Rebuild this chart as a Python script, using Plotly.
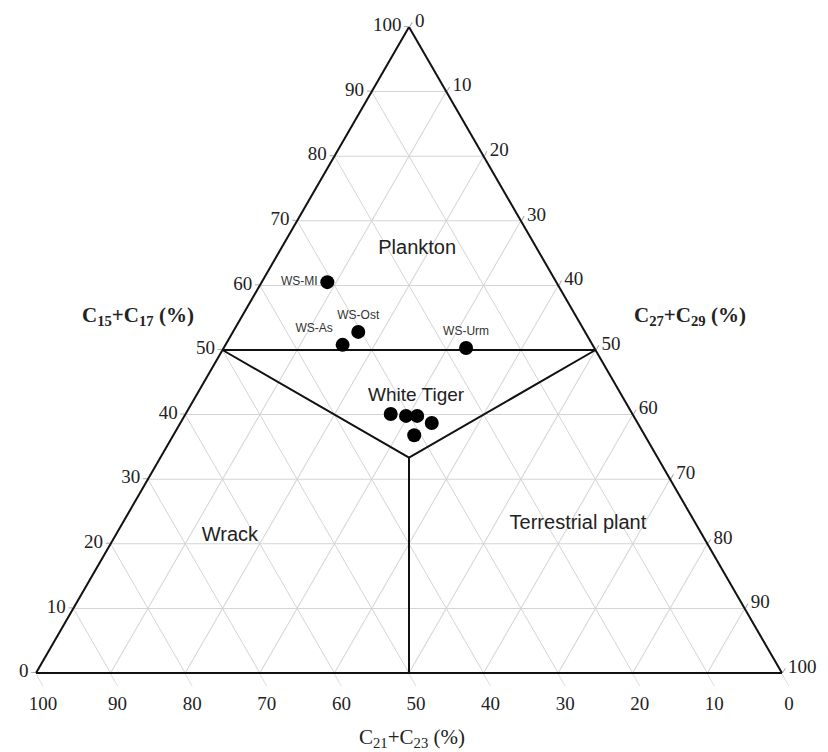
import plotly.graph_objects as go

# Sample points (ternary %): a = C15+C17, b = C21+C23, c = C27+C29
sample_names = ["WS-MI", "WS-Ost", "WS-As", "WS-Urm", "", "", "", "", ""]
sample_a = [60.5, 52.8, 50.8, 50.3, 40.1, 39.8, 39.8, 38.7, 36.8]
sample_b = [30.7, 30.4, 33.5, 17.2, 32.4, 30.5, 29.0, 27.6, 30.9]
sample_c = [8.8, 16.8, 15.7, 32.5, 27.5, 29.7, 31.2, 33.7, 32.3]
sample_textpos = ["middle left", "top center", "top left", "top center",
                  "middle center", "middle center", "middle center", "middle center", "middle center"]

# Field boundary lines
boundary_a = [50, 50, None, 50, 33.333, 0, None, 50, 33.333]
boundary_b = [50, 0, None, 50, 33.333, 50, None, 0, 33.333]
boundary_c = [0, 50, None, 0, 33.333, 50, None, 50, 33.333]

# Region labels
region_names = ["Plankton", "White Tiger", "Wrack", "Terrestrial plant"]
region_a = [65.6, 42.9, 21.2, 23.1]
region_b = [16.1, 27.6, 63.4, 15.8]
region_c = [18.3, 29.5, 15.4, 61.1]
region_sizes = [20, 19, 20, 20]

tick_vals = [0, 10, 20, 30, 40, 50, 60, 70, 80, 90, 100]
tick_text = [str(v) for v in tick_vals]

W, H = 828, 752
OFF = 8  # page body margin


def px(x):
    return (x - OFF) / W


def py(y):
    return 1 - (y - OFF) / H


fig = go.Figure()

fig.add_trace(go.Scatterternary(
    a=boundary_a, b=boundary_b, c=boundary_c, mode="lines",
    line=dict(color="#111111", width=2), hoverinfo="skip", showlegend=False))

fig.add_trace(go.Scatterternary(
    a=sample_a, b=sample_b, c=sample_c, mode="markers+text",
    text=sample_names, textposition=sample_textpos,
    textfont=dict(family="Liberation Sans, Arial", size=12, color="#333333"),
    marker=dict(color="black", size=14), showlegend=False))

fig.add_trace(go.Scatterternary(
    a=region_a, b=region_b, c=region_c, mode="text",
    text=region_names,
    textfont=dict(family="Liberation Sans, Arial", size=region_sizes, color="#222222"),
    showlegend=False))


def axis(ticklen, tickcolor="#aaaaaa"):
    return dict(
        min=0, tickmode="array", tickvals=tick_vals, ticktext=tick_text,
        showgrid=True, gridcolor="#d4d4d4", gridwidth=1,
        linecolor="#111111", linewidth=2,
        ticks="outside", ticklen=ticklen, tickcolor=tickcolor,
        tickfont=dict(family="Liberation Serif, Times New Roman", size=19, color="#222222"),
        title=dict(text=""),
    )


title_font = dict(family="Liberation Serif, Times New Roman", size=21, color="#222222")

fig.update_layout(
    width=W, height=H,
    margin=dict(l=0, r=0, t=0, b=0),
    paper_bgcolor="white", plot_bgcolor="white",
    showlegend=False,
    ternary=dict(
        sum=100,
        bgcolor="white",
        domain=dict(x=[px(36), px(782)], y=[py(673), py(27)]),
        aaxis=axis(4),
        baxis=axis(14, "#dddddd"),
        caxis=axis(5),
    ),
    annotations=[
        dict(text="<b>C<sub>15</sub>+C<sub>17</sub> (%)</b>", x=px(138), y=py(316),
             xref="paper", yref="paper", xanchor="center", yanchor="middle",
             showarrow=False, font=title_font),
        dict(text="<b>C<sub>27</sub>+C<sub>29</sub> (%)</b>", x=px(690), y=py(316),
             xref="paper", yref="paper", xanchor="center", yanchor="middle",
             showarrow=False, font=title_font),
        dict(text="C<sub>21</sub>+C<sub>23</sub> (%)", x=px(412), y=py(738),
             xref="paper", yref="paper", xanchor="center", yanchor="middle",
             showarrow=False,
             font=dict(family="Liberation Serif, Times New Roman", size=21, color="#222222")),
    ],
)

fig.write_html("out.html")
